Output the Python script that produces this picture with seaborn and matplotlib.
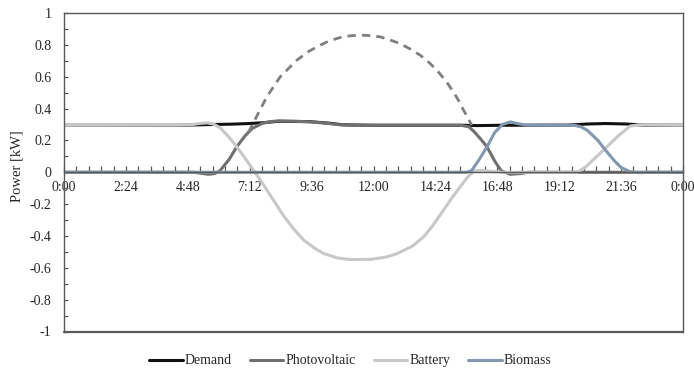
import numpy as np
import pandas as pd
import matplotlib
matplotlib.use("Agg")
import matplotlib.pyplot as plt
import seaborn as sns

# time of day in hours, power in kW
demand_t = [0, 4.5, 5.3, 5.8, 6.5, 7.2, 7.8, 8.3, 9.5, 10.3, 10.8, 12, 15.5, 16, 17, 19.5, 20.3, 21, 21.8, 22.5, 24]
demand_p = [0.295, 0.295, 0.298, 0.3, 0.302, 0.306, 0.312, 0.32, 0.318, 0.308, 0.298, 0.295, 0.295, 0.293, 0.295,
            0.296, 0.303, 0.306, 0.303, 0.296, 0.295]

pv_t = [0, 5.0, 5.3, 5.6, 5.85, 6.05, 6.4, 6.7, 7.0, 7.3, 7.7, 8.0, 8.3, 9.0, 9.6, 10.2, 10.7, 11.2, 15.4, 15.7,
        15.9, 16.2, 16.4, 16.7, 16.95, 17.3, 17.7, 18.0, 24]
pv_p = [0, 0, -0.006, -0.013, -0.008, 0.01, 0.08, 0.16, 0.225, 0.275, 0.308, 0.318, 0.322, 0.32, 0.316, 0.307, 0.298,
        0.295, 0.295, 0.285, 0.255, 0.2, 0.16, 0.07, 0.01, -0.013, -0.008, 0, 0]

pv_pot_t = [7.15, 7.5, 7.86, 8.38, 9.03, 9.5, 9.93, 10.3, 10.71, 11.1, 11.48, 11.9, 12.26, 12.6, 13.03, 13.4, 13.81,
            14.15, 14.46, 14.8, 15.1, 15.3, 15.49, 15.65, 15.81]
pv_pot_p = [0.25, 0.36, 0.473, 0.599, 0.704, 0.76, 0.798, 0.826, 0.846, 0.857, 0.861, 0.858, 0.85, 0.833, 0.808,
            0.776, 0.735, 0.69, 0.64, 0.575, 0.504, 0.45, 0.39, 0.345, 0.295]

battery_t = [0, 4.5, 5.0, 5.3, 5.55, 5.8, 6.05, 6.4, 6.7, 7.1, 7.4, 7.7, 8.1, 8.5, 8.9, 9.3, 9.7, 10.06, 10.6, 11.1,
             11.9, 12.5, 12.9, 13.5, 13.94, 14.3, 14.71, 15.0, 15.36, 15.65, 15.9, 16.2, 16.6, 17, 19.9, 20.2, 20.6,
             21.05, 21.5, 21.95, 22.3, 24]
battery_p = [0.295, 0.296, 0.3, 0.307, 0.31, 0.302, 0.28, 0.22, 0.16, 0.07, 0.0, -0.07, -0.17, -0.27, -0.355, -0.427,
             -0.475, -0.51, -0.538, -0.548, -0.547, -0.532, -0.512, -0.465, -0.406, -0.335, -0.239, -0.17, -0.092,
             -0.03, 0.008, 0.012, 0.005, 0, 0, 0.03, 0.09, 0.16, 0.23, 0.29, 0.298, 0.295]

biomass_t = [0, 15.6, 15.8, 16.1, 16.4, 16.7, 17.0, 17.3, 17.6, 17.95, 19.8, 20.05, 20.3, 20.7, 21.05, 21.35, 21.6,
             21.95, 22.3, 22.7, 24]
biomass_p = [0, 0, 0.01, 0.08, 0.16, 0.25, 0.3, 0.316, 0.305, 0.296, 0.295, 0.285, 0.262, 0.2, 0.128, 0.07, 0.03,
             0.003, -0.003, 0, 0]

x_ticks = [0, 2.4, 4.8, 7.2, 9.6, 12, 14.4, 16.8, 19.2, 21.6, 24]
x_labels = ["0:00", "2:24", "4:48", "7:12", "9:36", "12:00", "14:24", "16:48", "19:12", "21:36", "0:00"]
y_ticks = [1, 0.8, 0.6, 0.4, 0.2, 0, -0.2, -0.4, -0.6, -0.8, -1]
y_labels = ["1", "0.8", "0.6", "0.4", "0.2", "0", "-0.2", "-0.4", "-0.6", "-0.8", "-1"]

sns.set_style("white")
plt.rcParams['font.family'] = ['Liberation Serif', 'DejaVu Serif']
plt.rcParams['font.size'] = 10

fig = plt.figure(figsize=(6.94, 3.71), dpi=100)
ax = fig.add_axes([64 / 694, 1 - 331.5 / 371, 619 / 694, 318.5 / 371])

axis_col = '#595959'
sns.lineplot(x=demand_t, y=demand_p, ax=ax, color='#111111', lw=1.5, label='Demand', sort=False)
sns.lineplot(x=pv_t, y=pv_p, ax=ax, color='#707070', lw=1.5, label='Photovoltaic', sort=False)
sns.lineplot(x=pv_pot_t, y=pv_pot_p, ax=ax, color='#7f7f7f', lw=2, label='_nolegend_', sort=False,
             dashes=False, linestyle=(0, (3, 2.2)))
sns.lineplot(x=battery_t, y=battery_p, ax=ax, color='#c8c8c8', lw=1.5, label='Battery', sort=False)
sns.lineplot(x=biomass_t, y=biomass_p, ax=ax, color='#8497b0', lw=1.5, label='Biomass', sort=False)

ax.set_xlim(0, 24)
ax.set_ylim(-1, 1)

# x axis crosses at 0, box closed at the bottom
ax.spines['bottom'].set_position(('data', 0))
for s in ax.spines.values():
    s.set_color(axis_col)
    s.set_linewidth(1.0)
ax.axhline(-1, color=axis_col, lw=1.6, clip_on=False, zorder=5)

ax.set_xticks(x_ticks)
ax.set_xticklabels(x_labels)
ax.set_xticks(np.arange(0, 24.01, 0.48), minor=True)
ax.set_yticks(y_ticks)
ax.set_yticklabels(y_labels)
ax.set_yticks(np.arange(-1, 1.01, 0.1), minor=True)
ax.tick_params(axis='x', which='both', direction='in', length=4, width=0.9, color=axis_col, pad=6,
               labelsize=10, bottom=True)
ax.tick_params(axis='y', which='both', direction='in', length=3, width=0.9, color=axis_col, pad=9,
               labelsize=10, left=True)

ax.set_ylabel("Power [kW]", fontsize=10.5, labelpad=2)
ax.yaxis.set_label_coords(-0.065, 0.52)

handles, labels = ax.get_legend_handles_labels()
ax.get_legend().remove()
for h in handles:
    h.set_linewidth(2.2)
fig.legend(handles, labels, loc='center', bbox_to_anchor=(0.505, 0.027), ncol=4, frameon=False,
           handlelength=2.4, handletextpad=0.15, columnspacing=1.3, fontsize=10)

fig.savefig("out.png", dpi=100)
